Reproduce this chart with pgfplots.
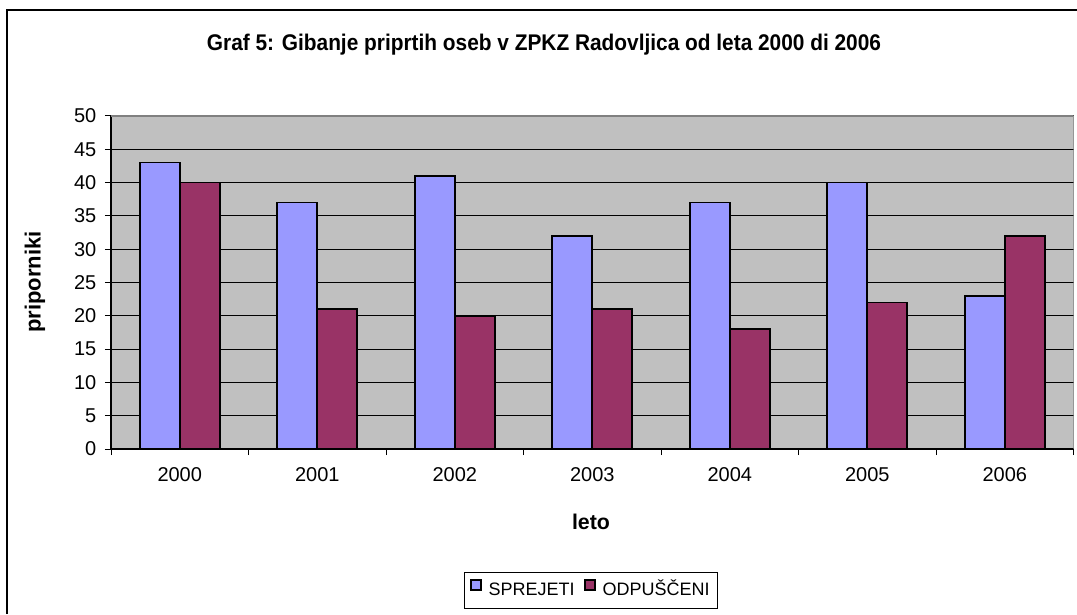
\documentclass[border=0pt]{standalone}
\usepackage{pgfplots}
\pgfplotsset{compat=1.18}
\usepackage{fontspec}
\setmainfont{Liberation Sans}
\definecolor{cblue}{HTML}{9999FF}
\definecolor{cred}{HTML}{993366}
\definecolor{cgray}{HTML}{C0C0C0}
\begin{document}
\begin{tikzpicture}[x=0.75pt,y=0.75pt]
\useasboundingbox (0,0) rectangle (1077,614);
\draw[line width=1.5pt] (7,0) -- (7,604) -- (1077,604);
\node[font=\bfseries\fontsize{17pt}{20pt}\selectfont] at (544,569) {\scalebox{0.92}[1]{Graf 5: Gibanje priprtih oseb v ZPKZ Radovljica od leta 2000 di 2006}};
\node[font=\bfseries\fontsize{16.5pt}{19pt}\selectfont, rotate=90] at (35,332) {priporniki};
\node[font=\bfseries\fontsize{16pt}{19pt}\selectfont] at (591,92) {leto};
\begin{axis}[
  at={(83.25pt,123.75pt)}, anchor=south west,
  scale only axis, width=721.9pt, height=249.75pt,
  xmin=-0.5, xmax=6.5, ymin=0, ymax=50,
  axis background/.style={fill=cgray},
  axis lines=left, axis line style={-, black, line width=0.9pt},
  xtick={-0.5,0.5,1.5,2.5,3.5,4.5,5.5,6.5},
  xticklabels={2000,2001,2002,2003,2004,2005,2006},
  x tick label as interval,
  ytick={0,5,...,50},
  tick align=outside, major tick length=4.5pt,
  tick style={black, line width=0.75pt},
  ymajorgrids, grid style={black, line width=0.75pt},
  /pgf/number format/assume math mode=true,
  tick label style={font=\fontsize{15pt}{18pt}\selectfont},
  yticklabel style={xshift=-3pt},
  xticklabel style={yshift=-6pt},
  ybar, bar width=0.291,
  legend style={at={(0.4987,-0.425)}, anchor=center, draw=black, line width=0.75pt,
    font=\fontsize{13.5pt}{16pt}\selectfont, legend columns=2,
    nodes={text height=10pt, text depth=2.5pt, inner sep=2pt},
    /tikz/every even column/.append style={column sep=5pt},
    inner xsep=4pt, inner ysep=5pt},
  legend image code/.code={\path[draw=none,fill=none] (-1pt,0pt) -- (11pt,0pt); \draw[#1, line width=1.1pt] (0pt,0.5pt) rectangle (7.5pt,8pt);},
]
\addplot[fill=cblue, draw=black, line width=1.2pt, bar shift=-0.1455] coordinates {(0,43) (1,37) (2,41) (3,32) (4,37) (5,40) (6,23)};
\addplot[fill=cred, draw=black, line width=1.2pt, bar shift=0.1455] coordinates {(0,40) (1,21) (2,20) (3,21) (4,18) (5,22) (6,32)};
\legend{SPREJETI, ODPUŠČENI}
\draw[gray, line width=0.9pt] (rel axis cs:0,1) -- (rel axis cs:1,1) -- (rel axis cs:1,0);
\end{axis}
\end{tikzpicture}
\end{document}
